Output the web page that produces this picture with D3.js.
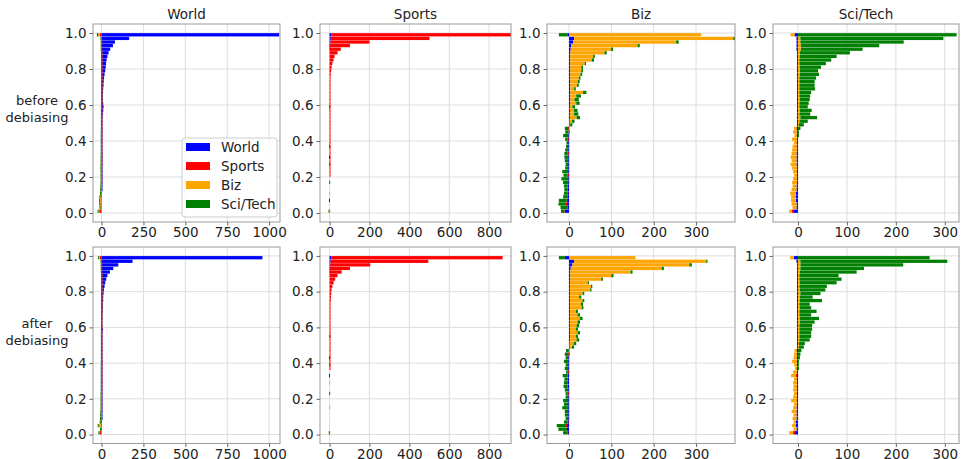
<!DOCTYPE html>
<html><head><meta charset="utf-8">
<script src="https://cdn.jsdelivr.net/npm/d3@7"></script>
<style>body{margin:0;background:#fff}svg{display:block}text{font-family:"DejaVu Sans",sans-serif;fill:#222}</style>
</head><body><svg id="c" width="961" height="459"></svg>
<script>
const classes = ["World","Sports","Biz","Sci/Tech"];
const colors = ["#0000ff","#ff0000","#ffa500","#008000"];
const rowLabels = [["before","debiasing"],["after","debiasing"]];
// bins listed top (0.99) to bottom (0.01)
const binCenters = d3.range(50).map(i => +(0.99 - 0.02*i).toFixed(2));
const yTicks = [0,0.2,0.4,0.6,0.8,1.0];
const xTicksWorld = [0,250,500,750,1000];
const xTicksSports = [0,200,400,600,800];
const xTicksBiz = [0,100,200,300];
const xTicksSci = [0,100,200,300];

// ---- before debiasing, World panel ----
const bWorld_world = [1060,165,80,68,52,42,35,30,27,25,22,18,15,13,12,10,9,8,8,10,12,10,8,6,5,4,3,3,2,2,2,2,1,1,1,1,1,1,1,1,1,1,1,1,0,0,0,0,0,0];
const bWorld_sports = [-12,-3,-2,-2,-2,-1,-1,-1,-1,-1,-1,-1,-1,-1,-1,-1,-1,-1,-1,-1,-1,-1,-1,-1,-1,-1,-1,-1,-1,-1,-1,-1,-1,-1,-1,-1,-1,-2,-2,-2,-2,-2,-3,-3,-4,-5,-6,-7,-6,-15];
const bWorld_biz = [-8,-2,-2,-2,-2,-1,-1,-1,-1,-1,-1,-1,-1,-1,-1,-1,-1,-1,-1,-1,-2,-2,-2,-2,-2,-2,-2,-2,-2,-2,-2,-2,-2,-2,-3,-3,-3,-3,-2,-2,-2,-2,-2,-3,-3,-5,-6,-4,-3,-3];
const bWorld_sci = [-8,-1,-1,-1,-1,-1,-1,-1,-1,-1,-1,-1,-1,-1,-1,-1,-1,-1,-1,-1,-1,-1,-1,-1,-1,-1,-1,-2,-2,-2,-2,-2,-2,-2,-2,-2,-2,-2,-2,-2,-2,-2,-2,-2,-2,-3,-3,-3,-3,-6];
// ---- before debiasing, Sports panel ----
const bSports_world = [8,6,5,2,1,0,0,0,0,0,0,0,0,0,0,0,0,0,0,0,0,0,0,0,0,0,0,0,0,0,0,0,0,0,-3,0,0,0,0,0,0,0,0,0,0,0,-3,0,0,0];
const bSports_sports = [905,495,195,100,55,40,25,20,14,10,8,6,5,4,4,3,3,2,2,2,2,2,1,1,2,1,1,1,1,1,1,1,1,1,1,1,1,1,1,1,0,0,0,0,0,0,0,0,0,0];
const bSports_biz = [0,0,0,0,0,0,0,0,0,0,0,0,0,0,0,0,0,0,0,0,0,0,0,0,0,0,0,-2,0,0,0,0,-3,0,0,0,0,0,0,-2,0,0,0,0,-2,0,0,0,0,-2];
const bSports_sci = [0,0,0,0,0,0,0,0,0,0,0,0,0,0,0,0,0,0,0,0,-2,0,0,0,0,0,0,0,0,0,0,-2,0,0,0,0,-2,0,0,0,0,-2,0,0,0,0,0,0,0,-3];
// ---- before debiasing, Biz panel ----
const bBiz_world = [-4,12,10,5,4,3,3,3,3,3,3,3,3,3,3,3,3,3,3,3,2,2,2,2,1,1,-1,-1,-2,-2,-2,-2,-2,-2,-2,-2,-2,-2,-2,-2,-2,-2,-3,-3,-3,-4,-5,-5,-4,-10];
const bBiz_sports = [0,0,0,0,0,0,0,0,0,0,0,0,0,0,0,0,0,0,0,0,0,0,0,0,0,0,-1,0,0,-1,0,0,0,-1,0,0,0,0,0,-1,0,0,0,0,-1,0,-1,-2,0,-1];
const bBiz_biz = [312,376,243,157,95,81,54,51,34,26,26,24,20,18,16,9,30,14,10,14,6,10,10,16,6,2,1,0,0,0,0,0,0,0,0,0,0,0,0,0,0,0,0,0,0,0,0,0,0,0];
const bBiz_sci = [-20,6,6,5,5,5,4,5,3,4,4,4,4,4,4,4,8,11,10,8,6,8,10,8,6,5,-8,-8,-12,-6,-4,-5,-7,-8,-9,-8,-6,-7,-14,-10,-16,-12,-9,-8,-8,-10,-18,-18,-16,-8];
// ---- before debiasing, Sci/Tech panel ----
const bSci_world = [-7,-3,-3,-3,-3,-2,-2,-2,-2,-2,-2,-2,-2,-2,-2,-2,-2,-2,-2,-2,-2,-2,-2,-2,-2,-2,-2,-2,-2,-2,-2,-2,-2,-3,-3,-3,-3,-2,-2,-2,-2,-2,-3,-3,-4,-4,-4,-3,-3,-8];
const bSci_sports = [0,0,0,0,0,0,0,0,0,0,0,0,0,0,0,0,0,0,0,0,0,0,0,0,0,0,0,-1,0,0,0,-1,0,0,0,0,0,0,0,0,0,0,0,0,0,0,0,0,0,-5];
const bSci_biz = [-8,5,5,6,6,4,4,3,3,4,4,4,3,3,3,3,3,3,4,3,3,4,3,5,3,2,-6,-7,-5,-10,-6,-8,-10,-10,-12,-10,-12,-10,-8,-6,-8,-10,-8,-10,-12,-10,-10,-10,-8,-5];
const bSci_sci = [324,292,211,160,126,102,75,65,54,43,37,39,34,31,31,32,24,22,20,19,17,24,22,34,17,10,5,2,1,0,0,0,0,0,0,0,0,0,0,0,0,0,0,0,0,0,0,0,0,0];
// ---- after debiasing, World panel ----
const aWorld_world = [960,185,100,70,50,35,28,22,18,14,12,10,10,8,8,7,6,6,5,5,8,6,5,4,3,3,2,2,2,2,1,1,1,1,1,1,1,1,1,1,1,1,1,1,1,1,0,0,0,0];
const aWorld_sports = [-10,-3,-2,-2,-2,-1,-1,-1,-1,-1,-1,-1,-1,-1,-1,-1,-1,-1,-1,-1,-1,-1,-1,-1,-1,-1,-1,-1,-1,-1,-1,-1,-1,-1,-1,-1,-1,-1,-2,-2,-2,-2,-2,-2,-3,-3,-4,-5,-4,-12];
const aWorld_biz = [-6,-2,-2,-2,-1,-1,-1,-1,-1,-1,-1,-1,-1,-1,-1,-1,-1,-1,-1,-1,-2,-2,-2,-2,-2,-2,-2,-2,-2,-2,-2,-2,-2,-2,-2,-2,-2,-2,-2,-2,-2,-2,-2,-3,-3,-4,-5,-15,-3,-3];
const aWorld_sci = [-6,-1,-1,-1,-1,-1,-1,-1,-1,-1,-1,-1,-1,-1,-1,-1,-1,-1,-1,-1,-1,-1,-1,-1,-1,-1,-1,-1,-1,-1,-2,-2,-2,-2,-2,-2,-2,-2,-2,-2,-2,-2,-2,-2,-2,-2,-2,-3,-2,-4];
// ---- after debiasing, Sports panel ----
const aSports_world = [8,5,4,2,1,0,0,0,0,0,0,0,0,0,0,0,0,0,0,0,0,0,0,0,0,0,0,0,-3,0,0,0,0,-3,0,0,0,0,0,0,0,0,0,0,0,0,0,0,0,0];
const aSports_sports = [860,490,200,100,60,40,28,20,14,10,8,7,6,5,4,3,3,3,2,2,2,2,1,1,1,1,1,1,1,1,1,1,0,0,0,0,0,0,0,0,0,0,0,0,0,0,0,0,0,0];
const aSports_biz = [0,0,0,0,0,0,0,0,0,0,0,0,0,0,0,0,0,0,0,0,0,0,0,0,0,0,0,-2,0,0,0,0,0,0,0,-2,0,0,0,0,0,0,-2,0,0,0,0,0,0,-2];
const aSports_sci = [0,0,0,0,0,0,0,0,0,0,0,0,0,0,0,0,0,0,0,0,0,0,-2,0,0,0,0,0,0,0,-2,0,0,0,0,0,0,0,-2,0,0,0,0,0,0,0,0,0,0,-2];
// ---- after debiasing, Biz panel ----
const aBiz_world = [-10,12,8,4,3,3,3,2,2,2,2,2,2,2,2,2,2,2,2,2,2,2,2,2,1,1,-1,-1,-2,-2,-2,-2,-2,-3,-3,-4,-3,-2,-2,-2,-2,-2,-2,-2,-2,-2,-3,-5,-5,-3];
const aBiz_sports = [0,0,0,0,0,0,0,0,0,0,0,0,0,0,0,0,0,0,0,0,0,0,0,0,0,0,0,-1,0,0,0,0,-1,0,0,0,0,0,-1,0,0,0,0,0,0,0,-1,-2,0,-1];
const aBiz_biz = [157,312,276,215,142,97,73,42,50,48,30,22,30,26,28,14,18,24,18,16,14,18,14,16,10,6,1,0,0,0,0,0,0,0,0,0,0,0,0,0,0,0,0,0,0,0,0,0,0,0];
const aBiz_sci = [-14,3,6,5,5,5,4,3,3,3,4,5,4,5,4,5,6,6,6,6,5,6,5,6,6,5,-6,-8,-6,-10,-6,-8,-4,-12,-8,-8,-10,-8,-5,-6,-12,-10,-14,-8,-8,-6,-8,-22,-20,-10];
// ---- after debiasing, Sci/Tech panel ----
const aSci_world = [-8,-3,-2,-2,-2,-2,-2,-2,-2,-2,-2,-2,-2,-2,-2,-2,-2,-2,-2,-2,-2,-2,-2,-2,-2,-2,-2,-2,-2,-2,-2,-2,-2,-2,-2,-2,-2,-2,-2,-2,-2,-2,-3,-3,-3,-3,-4,-4,-3,-6];
const aSci_sports = [0,0,0,0,0,0,0,0,0,0,0,0,0,0,0,0,0,0,0,0,0,0,0,0,0,0,0,0,0,-1,0,0,0,-2,0,0,0,0,0,0,0,0,0,0,0,0,0,0,0,-4];
const aSci_biz = [-8,5,5,5,4,3,3,4,3,4,5,4,4,3,4,3,3,4,4,3,3,3,3,3,2,2,-5,-6,-7,-9,-6,-4,-8,-10,-6,-8,-7,-8,-6,-8,-12,-6,-7,-10,-6,-8,-5,-8,-6,-8];
const aSci_sci = [269,300,210,130,116,80,86,75,56,52,41,26,45,21,23,35,24,39,30,26,26,24,24,21,12,10,7,5,4,2,1,1,0,0,0,0,0,0,0,0,0,0,0,0,0,0,0,0,0,0];

const panelSeries = [
  [[bWorld_world,bWorld_sports,bWorld_biz,bWorld_sci],[bSports_world,bSports_sports,bSports_biz,bSports_sci],[bBiz_world,bBiz_sports,bBiz_biz,bBiz_sci],[bSci_world,bSci_sports,bSci_biz,bSci_sci]],
  [[aWorld_world,aWorld_sports,aWorld_biz,aWorld_sci],[aSports_world,aSports_sports,aSports_biz,aSports_sci],[aBiz_world,aBiz_sports,aBiz_biz,aBiz_sci],[aSci_world,aSci_sports,aSci_biz,aSci_sci]]
];
const colTicks = [xTicksWorld,xTicksSports,xTicksBiz,xTicksSci];
// layout
const colX = [[93,280],[320,511],[547,735],[773,959]];
const colDomain = [[-51,1065],[-48,910],[-52,392],[-51,329]];
const rowY = [[222,24],[443.5,247]];

const svg = d3.select("#c");
const color = d3.scaleOrdinal(classes, colors);
const FS = 13.5;

panelSeries.forEach((row, r) => {
  row.forEach((series, c) => {
    const x = d3.scaleLinear().domain(colDomain[c]).range(colX[c]);
    const y = d3.scaleLinear().domain([-0.05,1.05]).range(rowY[r]);
    const g = svg.append("g");
    const cid = `clip${r}${c}`;
    svg.append("clipPath").attr("id",cid).append("rect")
      .attr("x",colX[c][0]).attr("y",rowY[r][1]).attr("width",colX[c][1]-colX[c][0]).attr("height",rowY[r][0]-rowY[r][1]);
    // grid
    const grid = g.append("g").attr("stroke","#dddddd").attr("stroke-width",1);
    colTicks[c].forEach(t => grid.append("line").attr("x1",x(t)).attr("x2",x(t)).attr("y1",rowY[r][1]).attr("y2",rowY[r][0]));
    yTicks.forEach(t => grid.append("line").attr("x1",colX[c][0]).attr("x2",colX[c][1]).attr("y1",y(t)).attr("y2",y(t)));
    // data
    const rows = binCenters.map((b,i) => { const o = {bin:b}; classes.forEach((k,j)=> o[k]=series[j][i]); return o; });
    const stacked = d3.stack().keys(classes).offset(d3.stackOffsetDiverging)(rows);
    const bars = g.append("g").attr("clip-path",`url(#${cid})`);
    const hpx = y(0) - y(0.02);
    stacked.forEach(s => {
      bars.append("g").attr("fill", color(s.key)).selectAll("rect").data(s.filter(d=>d[1]!==d[0])).join("rect")
        .attr("x", d => x(Math.min(d[0],d[1])))
        .attr("width", d => Math.max(1, Math.abs(x(d[1])-x(d[0]))))
        .attr("y", d => y(d.data.bin + 0.01) + 0.15)
        .attr("height", hpx - 0.3);
    });
    // frame
    g.append("rect").attr("x",colX[c][0]).attr("y",rowY[r][1]).attr("width",colX[c][1]-colX[c][0]).attr("height",rowY[r][0]-rowY[r][1])
      .attr("fill","none").attr("stroke","#9a9a9a").attr("stroke-width",1);
    // axes
    const xa = g.append("g").attr("transform",`translate(0,${rowY[r][0]})`)
      .call(d3.axisBottom(x).tickValues(colTicks[c]).tickFormat(d3.format("d")).tickSize(3.5).tickPadding(2));
    const ya = g.append("g").attr("transform",`translate(${colX[c][0]},0)`)
      .call(d3.axisLeft(y).tickValues(yTicks).tickFormat(d3.format(".1f")).tickSize(3.5).tickPadding(3));
    [xa,ya].forEach(a => { a.select(".domain").remove(); a.selectAll("line").attr("stroke","#666");
      a.selectAll("text").attr("font-size",FS).attr("font-family","DejaVu Sans").attr("fill","#222"); });
    if (r === 0) {
      svg.append("text").attr("x",(colX[c][0]+colX[c][1])/2).attr("y",19).attr("text-anchor","middle").attr("font-size",FS).text(classes[c]);
    }
  });
});

// row labels
rowLabels.forEach((lines, r) => {
  const cy = r === 0 ? 105 : 328;
  lines.forEach((t,i) => svg.append("text").attr("x",37).attr("y",cy + i*17).attr("text-anchor","middle").attr("font-size",13).text(t));
});

// legend
const lg = svg.append("g");
lg.append("rect").attr("x",182).attr("y",138).attr("width",95).attr("height",79).attr("rx",3)
  .attr("fill","#fff").attr("fill-opacity",0.85).attr("stroke","#cccccc");
classes.forEach((k,i) => {
  const yy = 147 + i*19;
  lg.append("rect").attr("x",186).attr("y",yy-4).attr("width",24).attr("height",8).attr("fill",color(k));
  lg.append("text").attr("x",221).attr("y",yy+5).attr("font-size",FS).text(k);
});
</script></body></html>
